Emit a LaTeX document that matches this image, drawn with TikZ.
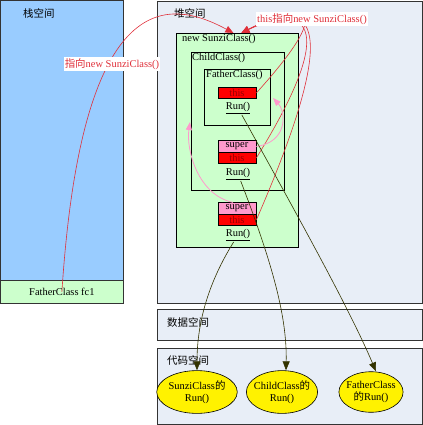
\documentclass[tikz,border=0pt]{standalone}
\usepackage{fontspec}
\setmainfont{Liberation Serif}
\newfontfamily\cjk{Noto Sans CJK SC}
\usepackage{tikz}
\usetikzlibrary{arrows.meta,shapes}
\definecolor{stackblue}{HTML}{99CCFF}
\definecolor{objgreen}{HTML}{CCFFCC}
\definecolor{heapgray}{HTML}{E8EEF7}
\definecolor{superpink}{HTML}{FF99CC}
\definecolor{thisred}{HTML}{FF0000}
\definecolor{thistext}{HTML}{990000}
\definecolor{linered}{HTML}{E0303A}
\definecolor{runolive}{HTML}{333300}
\definecolor{edgegray}{HTML}{333333}

\begin{document}
\begin{tikzpicture}[
  font=\fontsize{10.5}{12.6}\selectfont,
  area/.style={draw=edgegray,line width=0.8bp,anchor=north west,inner sep=0pt},
  objbox/.style={draw=black,line width=0.8bp,fill=objgreen,anchor=north west,inner sep=0pt},
  ptrbox/.style={draw=black,line width=0.6bp,minimum width=38bp,minimum height=11.5bp,inner sep=0pt},
  title/.style={anchor=west,inner sep=0pt},
  runlabel/.style={inner sep=1bp},
  method/.style={ellipse,draw=black,line width=0.6bp,fill=yellow,align=center,minimum height=40bp},
  pointsto/.style={draw=linered,line width=0.6bp,-{Triangle[length=8bp,width=7bp]},color=linered},
  inherits/.style={draw=superpink!70,line width=0.8bp,-{Triangle[length=8bp,width=6bp]},color=superpink},
  calls/.style={draw=runolive,line width=0.6bp,-{Triangle[length=9bp,width=7bp]},color=runolive}
]
\useasboundingbox (0bp,0bp) rectangle (423bp,-425bp);

% memory areas
\node (stack) at (0bp,0bp)[area,fill=stackblue,minimum width=123bp,minimum height=280bp] {};
\node (fc1) at (0bp,-280bp)[area,fill=objgreen,minimum width=123bp,minimum height=23bp] {FatherClass fc1};
\node (heap) at (157bp,-1bp)[area,fill=heapgray,minimum width=265bp,minimum height=302bp] {};
\node (data) at (157bp,-309bp)[area,fill=heapgray,minimum width=265bp,minimum height=31bp] {};
\node (code) at (157bp,-348bp)[area,fill=heapgray,minimum width=265bp,minimum height=76bp] {};
\node (stacktitle) at (23bp,-13bp)[title] {\cjk 栈空间};
\node (heaptitle) at (174bp,-13bp)[title] {\cjk 堆空间};
\node (datatitle) at (167bp,-323bp)[title] {\cjk 数据空间};
\node (codetitle) at (167bp,-360bp)[title] {\cjk 代码空间};

% object
\node (sunzi) at (176bp,-33bp)[objbox,minimum width=122bp,minimum height=214bp] {};
\node (child) at (191bp,-52bp)[objbox,minimum width=93bp,minimum height=138bp] {};
\node (father) at (204bp,-69bp)[objbox,minimum width=66bp,minimum height=56bp] {};
\node (sunzititle) at (182bp,-39bp)[title] {new SunziClass()};
\node (childtitle) at (192bp,-58bp)[title] {ChildClass()};
\node (fathertitle) at (206bp,-75bp)[title] {FatherClass()};

\node (this1) at (237bp,-93bp)[ptrbox,fill=thisred,text=thistext] {this};
\node (run1) at (238bp,-108bp)[runlabel] {\underline{Run()}};
\node (super2) at (237bp,-146.5bp)[ptrbox,fill=superpink] {super};
\node (this2) at (237bp,-158bp)[ptrbox,fill=thisred,text=thistext] {this};
\node (run2) at (238bp,-174bp)[runlabel] {\underline{Run()}};
\node (super3) at (237bp,-208.5bp)[ptrbox,fill=superpink] {super};
\node (this3) at (237bp,-220bp)[ptrbox,fill=thisred,text=thistext] {this};
\node (run3) at (238bp,-235bp)[runlabel] {\underline{Run()}};

% methods
\node (sunzirun) at (197bp,-392bp)[method,inner xsep=0bp] {SunziClass{\cjk 的}\\Run()};
\node (childrun) at (282bp,-392bp)[method,inner xsep=-3bp] {ChildClass{\cjk 的}\\Run()};
\node (fatherrun) at (371bp,-392bp)[method,inner xsep=-2bp] {FatherClass\\{\cjk 的}Run()};

% references
\draw [pointsto] (fc1.center) .. controls (82bp,20bp) and (172bp,0bp) .. ([xshift=-4bp]sunzi.north);
\draw [pointsto] (this1.east) .. controls (345bp,5bp) and (295bp,-5bp) .. ([xshift=4bp]sunzi.north);
\draw [pointsto] (this2.east) .. controls (345bp,-15bp) and (300bp,-5bp) .. ([xshift=4bp]sunzi.north);
\draw [pointsto] (this3.east) .. controls (350bp,-5bp) and (305bp,0bp) .. ([xshift=4bp]sunzi.north);
\node (stacknote) at (112bp,-64bp)[fill=white,inner sep=1bp,text=linered] {{\cjk 指向}new SunziClass()};
\node (thisnote) at (312bp,-19bp)[fill=white,inner sep=1bp,text=linered] {this{\cjk 指向}new SunziClass()};

% super
\coordinate (fatherup) at (273bp,-98bp);
\coordinate (childup) at (190bp,-122bp);
\draw [inherits] (super2.east) .. controls (288bp,-142bp) and (286bp,-112bp) .. (fatherup);
\draw [inherits] ([xshift=-4bp]super3.north) .. controls (198bp,-195bp) and (186bp,-150bp) .. (childup);

% calls
\draw [calls] (run1) .. controls (300bp,-220bp) and (350bp,-310bp) .. ([xshift=5bp]fatherrun.north);
\draw [calls] (run2) .. controls (275bp,-270bp) and (287bp,-320bp) .. ([xshift=4bp]childrun.north);
\draw [calls] (run3) .. controls (210bp,-280bp) and (197bp,-320bp) .. (sunzirun.north);
\end{tikzpicture}
\end{document}
